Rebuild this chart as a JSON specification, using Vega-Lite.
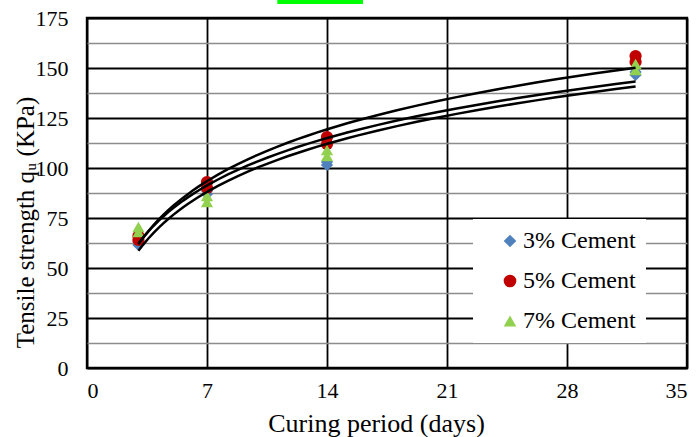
{
  "$schema": "https://vega.github.io/schema/vega-lite/v6.json",
  "width": 600,
  "height": 350,
  "autosize": {"type": "none"},
  "padding": {"left": 87, "top": 18, "right": 13, "bottom": 69},
  "background": "white",
  "config": {
    "font": "Times New Roman, Liberation Serif, serif",
    "axis": {"labelFont": "Times New Roman, Liberation Serif, serif", "titleFont": "Times New Roman, Liberation Serif, serif"},
    "legend": {"labelFont": "Times New Roman, Liberation Serif, serif", "titleFont": "Times New Roman, Liberation Serif, serif"},
    "view": {"stroke": "black", "strokeWidth": 2.4}
  },
  "resolve": {"axis": {"y": "independent"}},
  "datasets": {
    "pts": [
      {"day": 3, "qu": 61.5, "mix": "3% Cement"},
      {"day": 3, "qu": 63, "mix": "3% Cement"},
      {"day": 7, "qu": 87, "mix": "3% Cement"},
      {"day": 7, "qu": 88.5, "mix": "3% Cement"},
      {"day": 14, "qu": 101.5, "mix": "3% Cement"},
      {"day": 14, "qu": 103, "mix": "3% Cement"},
      {"day": 32, "qu": 146.5, "mix": "3% Cement"},
      {"day": 32, "qu": 148, "mix": "3% Cement"},
      {"day": 3, "qu": 64, "mix": "5% Cement"},
      {"day": 3, "qu": 66, "mix": "5% Cement"},
      {"day": 7, "qu": 90, "mix": "5% Cement"},
      {"day": 7, "qu": 93, "mix": "5% Cement"},
      {"day": 14, "qu": 112, "mix": "5% Cement"},
      {"day": 14, "qu": 115.5, "mix": "5% Cement"},
      {"day": 32, "qu": 153, "mix": "5% Cement"},
      {"day": 32, "qu": 156, "mix": "5% Cement"},
      {"day": 3, "qu": 68, "mix": "7% Cement"},
      {"day": 3, "qu": 70.5, "mix": "7% Cement"},
      {"day": 7, "qu": 83, "mix": "7% Cement"},
      {"day": 7, "qu": 86, "mix": "7% Cement"},
      {"day": 14, "qu": 106, "mix": "7% Cement"},
      {"day": 14, "qu": 109, "mix": "7% Cement"},
      {"day": 32, "qu": 149, "mix": "7% Cement"},
      {"day": 32, "qu": 152, "mix": "7% Cement"}
    ],
    "mark": [
      {"x1": 11.1, "x2": 16.1, "y1": 182, "y2": 184}
    ]
  },
  "layer": [
    {
      "data": {"name": "pts"},
      "mark": {"type": "point", "filled": true, "opacity": 1, "size": 150},
      "encoding": {
        "x": {
          "field": "day", "type": "quantitative",
          "scale": {"domain": [0, 35], "nice": false, "zero": false},
          "axis": {
            "values": [0, 7, 14, 21, 28, 35],
            "title": "Curing period (days)",
            "titleFontSize": 26, "titleFontWeight": "normal", "titleColor": "black",
            "titleX": 289, "titleY": 55, "titleBaseline": "middle", "titleAlign": "center",
            "labelFontSize": 22, "labelColor": "black", "labelPadding": 12,
            "ticks": false, "domain": false,
            "grid": true, "gridColor": "black", "gridWidth": 1.8, "gridOpacity": 1
          }
        },
        "y": {
          "field": "qu", "type": "quantitative",
          "scale": {"domain": [0, 175], "nice": false},
          "axis": {
            "values": [0, 25, 50, 75, 100, 125, 150, 175],
            "title": "Tensile strength qᵤ (KPa)",
            "titleFontSize": 25, "titleFontWeight": "normal", "titleColor": "black",
            "titleX": -62, "titleY": 204, "titleBaseline": "middle", "titleAlign": "center", "titleAngle": -90,
            "labelFontSize": 22, "labelColor": "black", "labelPadding": 19,
            "ticks": false, "domain": false,
            "grid": true, "gridColor": "black", "gridWidth": 1.8, "gridOpacity": 1
          }
        },
        "color": {
          "field": "mix", "type": "nominal",
          "scale": {"domain": ["3% Cement", "5% Cement", "7% Cement"], "range": ["#4F81BD", "#C00000", "#92D050"]},
          "legend": {
            "title": null,
            "orient": "none", "legendX": 386, "legendY": 201,
            "fillColor": "white", "padding": 10, "symbolOffset": 15,
            "labelFontSize": 24, "labelColor": "black",
            "labelExpr": "datum.label + '\u2003'",
            "symbolSize": 160, "rowPadding": 16, "labelOffset": 1,
            "symbolOpacity": 1
          }
        },
        "shape": {
          "field": "mix", "type": "nominal",
          "scale": {"domain": ["3% Cement", "5% Cement", "7% Cement"], "range": ["diamond", "circle", "triangle-up"]},
          "legend": {
            "title": null,
            "orient": "none", "legendX": 386, "legendY": 201,
            "fillColor": "white", "padding": 10, "symbolOffset": 15,
            "labelFontSize": 24, "labelColor": "black",
            "labelExpr": "datum.label + '\u2003'",
            "symbolSize": 160, "rowPadding": 16, "labelOffset": 1,
            "symbolOpacity": 1
          }
        }
      }
    },
    {
      "data": {"name": "pts"},
      "transform": [
        {"regression": "qu", "on": "day", "method": "log", "groupby": ["mix"], "extent": [3, 32]}
      ],
      "mark": {"type": "line", "color": "black", "strokeWidth": 2.5},
      "encoding": {
        "x": {
          "field": "day", "type": "quantitative",
          "axis": {
            "values": [0, 7, 14, 21, 28, 35],
            "title": "Curing period (days)",
            "titleFontSize": 26, "titleFontWeight": "normal", "titleColor": "black",
            "titleX": 289, "titleY": 55, "titleBaseline": "middle", "titleAlign": "center",
            "labelFontSize": 22, "labelColor": "black", "labelPadding": 12,
            "ticks": false, "domain": false,
            "grid": true, "gridColor": "black", "gridWidth": 1.8, "gridOpacity": 1
          }
        },
        "y": {
          "field": "qu", "type": "quantitative",
          "axis": {
            "orient": "right",
            "values": [12.5, 37.5, 62.5, 87.5, 112.5, 137.5, 162.5],
            "labels": false, "ticks": false, "domain": false, "title": null,
            "grid": true, "gridColor": "#8c8c8c", "gridWidth": 1.4, "gridOpacity": 1
          }
        },
        "detail": {"field": "mix", "type": "nominal"}
      }
    },
    {
      "data": {"name": "mark"},
      "mark": {"type": "rect", "color": "#00FF00", "clip": false},
      "encoding": {
        "x": {
          "field": "x1", "type": "quantitative",
          "axis": {
            "values": [0, 7, 14, 21, 28, 35],
            "title": "Curing period (days)",
            "titleFontSize": 26, "titleFontWeight": "normal", "titleColor": "black",
            "titleX": 289, "titleY": 55, "titleBaseline": "middle", "titleAlign": "center",
            "labelFontSize": 22, "labelColor": "black", "labelPadding": 12,
            "ticks": false, "domain": false,
            "grid": true, "gridColor": "black", "gridWidth": 1.8, "gridOpacity": 1
          }
        },
        "x2": {"field": "x2"},
        "y": {"field": "y1", "type": "quantitative", "axis": null},
        "y2": {"field": "y2"}
      }
    }
  ]
}
